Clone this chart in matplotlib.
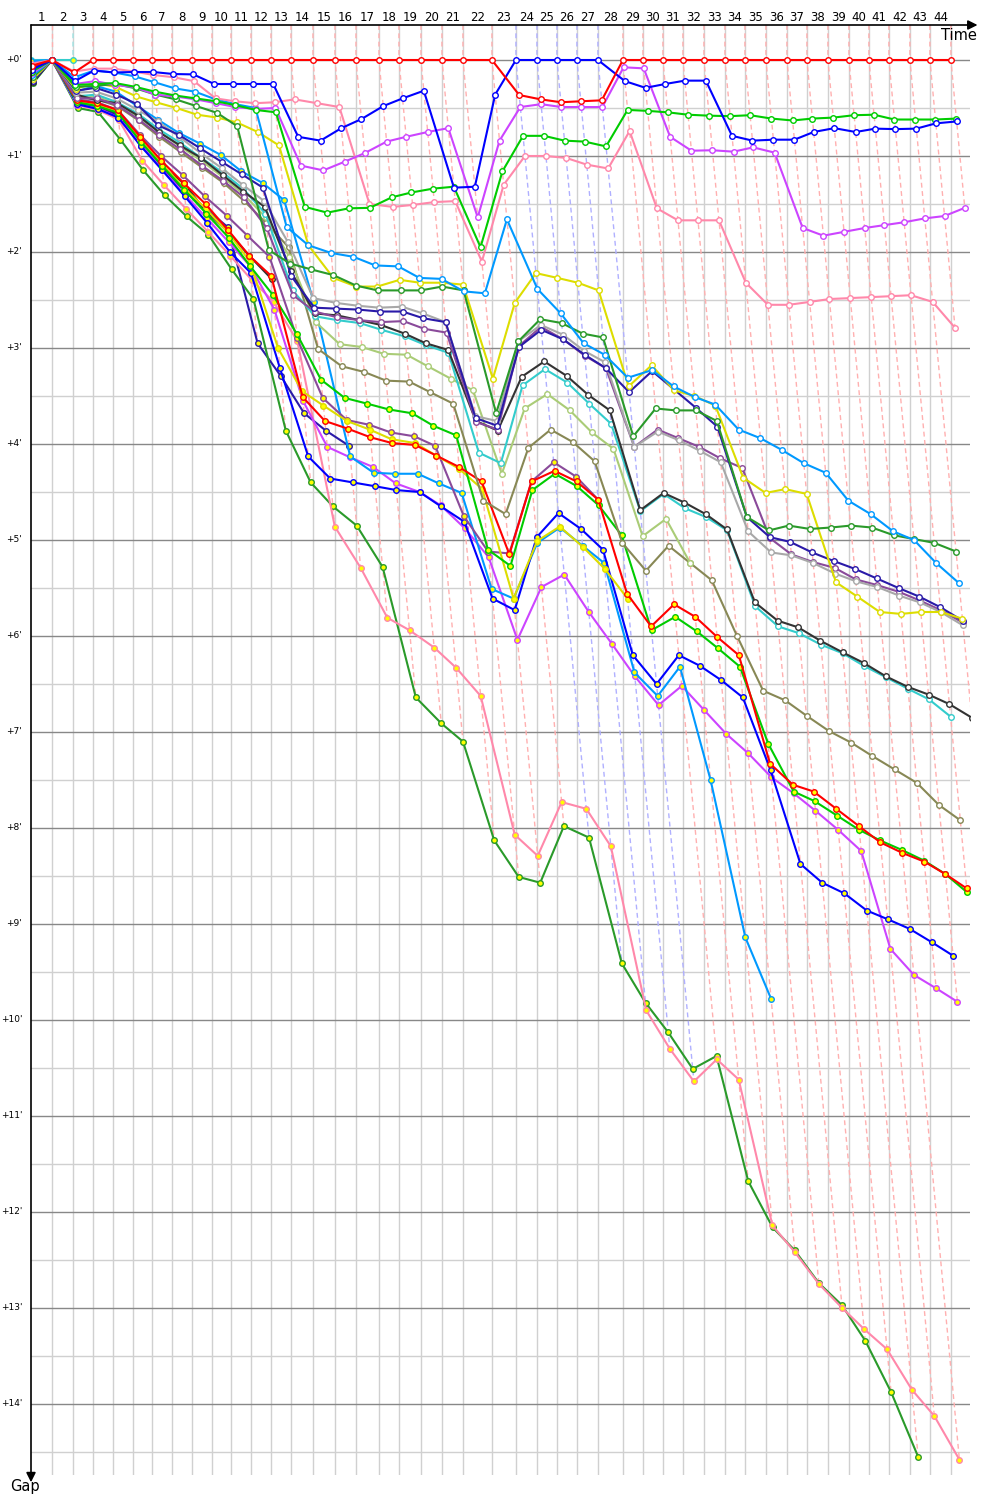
import numpy as np
import matplotlib
matplotlib.use("Agg")
import matplotlib.pyplot as plt
import matplotlib.transforms as mtransforms

# leader lap times in seconds (laps 1..44)
leader_lap_s = [139.7, 139.7, 133.0, 133.0, 133.0, 126.4, 133.0, 133.0, 133.0, 126.4,
                133.0, 133.0, 133.0, 146.3, 146.3, 139.7, 153.0, 133.0, 146.3, 139.7,
                139.7, 192.9, 159.6, 139.7, 133.0, 133.0, 139.7, 166.3, 133.0, 133.0,
                133.0, 139.7, 139.7, 133.0, 139.7, 139.7, 133.0, 139.7, 139.7, 133.0,
                133.0, 139.7, 133.0, 139.7]

# who led each lap (first lap of each stint)
leader_changes = [(1, "red"), (2, "teal"), (3, "red"), (23, "blue"), (28, "red")]

# gap to leader in minutes, laps 0..n (missing laps = retired)
red_1 = [0.06, 0, 0.13, 0, 0, 0, 0, 0, 0, 0,
         0, 0, 0, 0, 0, 0, 0, 0, 0, 0,
         0, 0, 0, 0.365, 0.41, 0.44, 0.43, 0.42, 0, 0,
         0, 0, 0, 0, 0, 0, 0, 0, 0, 0,
         0, 0, 0, 0, 0]
blue_1 = [0.10, 0, 0.22, 0.11, 0.13, 0.125, 0.125, 0.146, 0.15, 0.25,
          0.25, 0.25, 0.25, 0.80, 0.84, 0.71, 0.615, 0.48, 0.40, 0.32,
          1.33, 1.32, 0.36, 0, 0, 0, 0, 0, 0.22, 0.29,
          0.25, 0.215, 0.215, 0.79, 0.84, 0.83, 0.83, 0.75, 0.71, 0.75,
          0.715, 0.72, 0.715, 0.66, 0.64]
green_1 = [0.12, 0, 0.26, 0.25, 0.24, 0.28, 0.33, 0.37, 0.40, 0.43,
           0.47, 0.52, 0.545, 1.53, 1.59, 1.545, 1.54, 1.43, 1.38, 1.34,
           1.32, 1.95, 1.16, 0.79, 0.79, 0.84, 0.85, 0.90, 0.52, 0.53,
           0.545, 0.57, 0.58, 0.585, 0.575, 0.61, 0.63, 0.61, 0.60, 0.575,
           0.57, 0.62, 0.62, 0.62, 0.61]
pink_1 = [0.04, 0, 0.12, 0.09, 0.09, 0.12, 0.156, 0.18, 0.22, 0.40,
          0.43, 0.45, 0.44, 0.41, 0.45, 0.49, 1.50, 1.53, 1.51, 1.48,
          1.47, 2.10, 1.30, 1.00, 1.00, 1.02, 1.09, 1.13, 0.74, 1.545,
          1.67, 1.67, 1.67, 2.32, 2.55, 2.55, 2.52, 2.49, 2.48, 2.47,
          2.46, 2.45, 2.52, 2.79]
purple_1 = [0.14, 0, 0.25, 0.22, 0.26, 0.285, 0.36, 0.38, 0.41, 0.45,
            0.49, 0.51, 0.50, 1.10, 1.15, 1.06, 0.97, 0.85, 0.80, 0.75,
            0.71, 1.64, 0.84, 0.49, 0.46, 0.49, 0.49, 0.49, 0.076, 0.087,
            0.80, 0.945, 0.94, 0.955, 0.91, 0.965, 1.75, 1.83, 1.79, 1.75,
            1.72, 1.69, 1.65, 1.625, 1.54]
lightblue_1 = [0.16, 0, 0.18, 0.11, 0.13, 0.17, 0.23, 0.295, 0.33, 0.41,
               0.46, 0.50, 1.74, 1.93, 2.01, 2.05, 2.14, 2.15, 2.27, 2.28,
               2.41, 2.43, 1.66, 2.385, 2.64, 2.95, 3.07, 3.31, 3.23, 3.40,
               3.51, 3.59, 3.85, 3.94, 4.06, 4.20, 4.30, 4.59, 4.73, 4.91,
               5.00, 5.24, 5.45]
darkgreen_1 = [0.18, 0, 0.28, 0.27, 0.25, 0.295, 0.36, 0.41, 0.48, 0.55,
               0.69, 1.98, 2.12, 2.18, 2.24, 2.35, 2.40, 2.40, 2.40, 2.36,
               2.40, 3.68, 2.93, 2.70, 2.74, 2.85, 2.89, 3.92, 3.63, 3.65,
               3.65, 3.76, 4.76, 4.90, 4.85, 4.885, 4.87, 4.85, 4.87, 4.95,
               4.99, 5.03, 5.12]
yellow_1 = [0.20, 0, 0.30, 0.24, 0.28, 0.38, 0.44, 0.50, 0.57, 0.60,
            0.65, 0.75, 0.89, 1.93, 2.27, 2.36, 2.36, 2.29, 2.32, 2.32,
            2.34, 3.32, 2.53, 2.22, 2.27, 2.32, 2.40, 3.40, 3.18, 3.44,
            3.50, 3.60, 4.35, 4.51, 4.47, 4.52, 5.44, 5.59, 5.75, 5.77,
            5.75, 5.75, 5.82]
navy_1 = [0.22, 0, 0.32, 0.29, 0.36, 0.46, 0.68, 0.78, 0.92, 1.06,
          1.19, 1.33, 2.25, 2.58, 2.59, 2.60, 2.62, 2.62, 2.69, 2.73,
          3.73, 3.81, 2.99, 2.81, 2.91, 3.07, 3.21, 3.46, 3.24, 3.43,
          3.62, 3.82, 4.76, 4.97, 5.02, 5.13, 5.22, 5.30, 5.40, 5.50,
          5.59, 5.70, 5.84]
gray_1 = [0.20, 0, 0.34, 0.33, 0.40, 0.52, 0.64, 0.80, 0.97, 1.13,
          1.30, 1.47, 1.90, 2.48, 2.53, 2.56, 2.58, 2.57, 2.64, 2.73,
          3.71, 3.76, 2.93, 2.76, 2.86, 3.03, 3.15, 4.03, 3.87, 3.96,
          4.07, 4.19, 4.91, 5.13, 5.16, 5.24, 5.35, 5.43, 5.49, 5.58,
          5.65, 5.75, 5.89]
dpurple_1 = [0.21, 0, 0.40, 0.40, 0.47, 0.62, 0.78, 0.93, 1.10, 1.26,
             1.43, 1.75, 2.45, 2.62, 2.68, 2.71, 2.73, 2.72, 2.80, 2.84,
             3.77, 3.85, 2.98, 2.78, 2.91, 3.08, 3.21, 4.03, 3.85, 3.94,
             4.03, 4.15, 4.25, 4.98, 5.15, 5.23, 5.29, 5.41, 5.47, 5.54,
             5.63, 5.73, 5.86]
black_1 = [0.23, 0, 0.36, 0.42, 0.45, 0.58, 0.75, 0.89, 1.02, 1.20,
           1.37, 1.53, 2.20, 2.64, 2.66, 2.71, 2.76, 2.85, 2.95, 3.02,
           3.76, 3.86, 3.30, 3.14, 3.29, 3.49, 3.65, 4.69, 4.51, 4.61,
           4.73, 4.89, 5.65, 5.84, 5.91, 6.05, 6.17, 6.28, 6.42, 6.53,
           6.61, 6.71, 6.85]
teal_1 = [0.19, 0, 0.38, 0.36, 0.44, 0.56, 0.72, 0.86, 1.02, 1.17,
          1.34, 1.60, 2.40, 2.67, 2.71, 2.74, 2.81, 2.88, 2.97, 3.05,
          4.09, 4.20, 3.39, 3.22, 3.36, 3.58, 3.79, 4.70, 4.52, 4.67,
          4.76, 4.90, 5.69, 5.90, 5.97, 6.09, 6.18, 6.31, 6.43, 6.55,
          6.66, 6.84]
lolive_1 = [0.17, 0, 0.37, 0.38, 0.46, 0.60, 0.74, 0.90, 1.05, 1.22,
            1.40, 1.64, 2.05, 2.73, 2.96, 2.99, 3.06, 3.07, 3.19, 3.32,
            3.44, 4.31, 3.63, 3.48, 3.65, 3.88, 4.05, 4.96, 4.78, 5.24]
olive_1 = [0.15, 0, 0.39, 0.41, 0.48, 0.63, 0.80, 0.96, 1.12, 1.28,
           1.47, 1.70, 1.95, 3.01, 3.19, 3.25, 3.34, 3.35, 3.46, 3.58,
           4.59, 4.73, 4.04, 3.85, 3.98, 4.18, 5.03, 5.32, 5.06, 5.24,
           5.42, 6.00, 6.57, 6.67, 6.83, 6.99, 7.11, 7.25, 7.39, 7.53,
           7.76, 7.92]

red_2 = [0.07, 0, 0.42, 0.45, 0.52, 0.80, 1.05, 1.28, 1.50, 1.77,
         2.04, 2.25, 3.51, 3.76, 3.84, 3.93, 3.99, 4.01, 4.12, 4.24,
         4.39, 5.15, 4.39, 4.28, 4.39, 4.58, 5.56, 5.90, 5.67, 5.80,
         6.01, 6.20, 7.33, 7.55, 7.62, 7.80, 7.98, 8.15, 8.26, 8.35,
         8.48, 8.63]
green_2 = [0.09, 0, 0.44, 0.48, 0.55, 0.85, 1.10, 1.35, 1.60, 1.85,
           2.15, 2.45, 2.85, 3.33, 3.52, 3.58, 3.64, 3.68, 3.81, 3.91,
           5.10, 5.27, 4.48, 4.31, 4.44, 4.64, 4.95, 5.94, 5.80, 5.95,
           6.13, 6.32, 7.12, 7.62, 7.72, 7.87, 8.02, 8.13, 8.23, 8.34,
           8.48, 8.67]
yellow_2 = [0.11, 0, 0.43, 0.46, 0.54, 0.82, 1.08, 1.33, 1.55, 1.80,
            2.10, 3.00, 3.45, 3.60, 3.76, 3.85, 3.95, 3.99, 4.12, 4.26,
            4.47, 5.61, 5.01, 4.86, 5.07, 5.30, 5.61]
dpurple_2 = [0.13, 0, 0.41, 0.44, 0.52, 0.78, 1.00, 1.20, 1.42, 1.62,
             1.83, 2.05, 2.90, 3.52, 3.75, 3.80, 3.88, 3.92, 4.02, 4.75,
             5.12, 5.14, 4.39, 4.19, 4.34, 4.58]
pink_2 = [0.10, 0, 0.47, 0.52, 0.62, 1.05, 1.30, 1.55, 1.79, 2.04,
          2.29, 2.52, 2.93, 4.86, 5.29, 5.81, 5.94, 6.12, 6.33, 6.625,
          8.07, 8.29, 7.73, 7.80, 8.19, 9.90, 10.30, 10.64, 10.41, 10.62,
          12.14, 12.42, 12.75, 13.00, 13.22, 13.43, 13.85, 14.125, 14.58]
purple_2 = [0.03, 0, 0.47, 0.50, 0.60, 0.87, 1.14, 1.40, 1.65, 1.90,
            2.15, 2.60, 3.55, 4.03, 4.14, 4.24, 4.41, 4.50, 4.64, 4.88,
            5.18, 6.04, 5.49, 5.36, 5.75, 6.08, 6.42, 6.72, 6.52, 6.77,
            7.02, 7.22, 7.47, 7.64, 7.82, 8.02, 8.24, 9.26, 9.53, 9.67,
            9.81]
lightblue_2 = [0.01, 0, 0.33, 0.27, 0.33, 0.48, 0.62, 0.76, 0.87, 0.99,
               1.16, 1.28, 1.46, 2.52, 4.13, 4.30, 4.31, 4.31, 4.41, 4.51,
               5.51, 5.61, 5.03, 4.87, 5.06, 5.24, 6.38, 6.625, 6.32, 7.50,
               9.14, 9.78]
navy_2 = [0.05, 0, 0.45, 0.50, 0.58, 0.86, 1.12, 1.36, 1.55, 1.74,
          2.95, 3.29, 3.68, 3.86, 4.02]
blue_2 = [0.08, 0, 0.46, 0.51, 0.60, 0.90, 1.15, 1.42, 1.70, 2.00,
          2.22, 3.21, 4.13, 4.36, 4.40, 4.44, 4.48, 4.50, 4.65, 4.81,
          5.61, 5.73, 4.97, 4.72, 4.885, 5.10, 6.20, 6.50, 6.20, 6.31,
          6.46, 6.64, 7.40, 8.375, 8.57, 8.68, 8.86, 8.95, 9.05, 9.19,
          9.33]
darkgreen_2 = [0.24, 0, 0.50, 0.54, 0.83, 1.15, 1.41, 1.63, 1.82, 2.18,
               2.49, 3.86, 4.40, 4.65, 4.85, 5.28, 6.64, 6.91, 7.10, 8.13,
               8.51, 8.57, 7.98, 8.10, 9.41, 9.82, 10.13, 10.51, 10.375, 11.68,
               12.16, 12.40, 12.74, 12.97, 13.34, 13.875, 14.55]
black_2 = [0.14, 0, 0.44, 0.49, 0.56, 0.90, 1.11, 1.28, 1.58, 1.79,
           2.04, 2.28]
teal_2 = [0.0, 0, 0.0]

team_colors = {
    "red": "#ff0000", "blue": "#0000ff", "green": "#00cc00", "pink": "#ff88aa",
    "purple": "#cc44ff", "lightblue": "#0099ff", "darkgreen": "#2a9a2a",
    "yellow": "#dddd00", "navy": "#2a1aa8", "gray": "#a8a8a8",
    "dpurple": "#8a4a9a", "black": "#333333", "teal": "#33cccc",
    "lolive": "#aacc77", "olive": "#888855",
}
lap_line_colors = {"red": "#ffb0b0", "blue": "#b0b0ff", "teal": "#9fe3e3"}

# second drivers (yellow markers) drawn first, first drivers on top
drivers = [
    ("teal", teal_2, "#ffff00"), ("black", black_2, "#ffff00"),
    ("navy", navy_2, "#ffff00"), ("darkgreen", darkgreen_2, "#ffff00"),
    ("pink", pink_2, "#ffff00"), ("purple", purple_2, "#ffff00"),
    ("lightblue", lightblue_2, "#ffff00"), ("blue", blue_2, "#ffff00"),
    ("dpurple", dpurple_2, "#ffff00"), ("yellow", yellow_2, "#ffff00"),
    ("green", green_2, "#ffff00"), ("red", red_2, "#ffff00"),
    ("olive", olive_1, "white"), ("lolive", lolive_1, "white"),
    ("teal", teal_1, "white"), ("black", black_1, "white"),
    ("dpurple", dpurple_1, "white"), ("gray", gray_1, "white"),
    ("navy", navy_1, "white"), ("yellow", yellow_1, "white"),
    ("darkgreen", darkgreen_1, "white"), ("lightblue", lightblue_1, "white"),
    ("pink", pink_1, "white"), ("purple", purple_1, "white"),
    ("green", green_1, "white"), ("blue", blue_1, "white"),
    ("red", red_1, "white"),
]

n_laps = len(leader_lap_s)
t_lap = np.concatenate([[0.0], np.cumsum(leader_lap_s) / 60.0])  # minutes

gaps = []
for team, vals, face in drivers:
    g = np.full(n_laps + 1, np.nan)
    g[:len(vals)] = vals
    gaps.append(g)
gaps = np.array(gaps)

# figure geometry: 9.02 px per minute along time, 96 px per minute of gap
px_time, px_gap = 9.02, 96.0
fig = plt.figure(figsize=(10, 15), dpi=100)
ax = fig.add_axes([31 / 1000, 25 / 1500, 939 / 1000, 1450 / 1500])
x_max = 939 / px_time
y_top = -35 / px_gap
y_bot = y_top + 1450 / px_gap
ax.set_xlim(0, x_max)
ax.set_ylim(y_bot, y_top)
for s in ax.spines.values():
    s.set_visible(False)
ax.set_xticks([])
ax.set_yticks([])

# grid
for k in range(0, 15):
    ax.axhline(k, color="#888888", lw=1.0, zorder=0.5)
    ax.axhline(k + 0.5, color="#d0d0d0", lw=1.0, zorder=0.4)
for n in range(1, n_laps + 1):
    ax.axvline(t_lap[n], color="#d0d0d0", lw=1.0, zorder=0.4)

# lap lines (same lap for every car, coloured by leader)
leader_of = {}
for i, (start, team) in enumerate(leader_changes):
    end = leader_changes[i + 1][0] if i + 1 < len(leader_changes) else n_laps + 1
    for n in range(start, end):
        leader_of[n] = team
for n in range(1, n_laps + 1):
    g_max = np.nanmax(gaps[:, n])
    ax.plot([t_lap[n], t_lap[n], t_lap[n] + g_max], [y_top, 0, g_max],
            color=lap_line_colors[leader_of[n]], lw=1.0, ls=(0, (3.5, 2.5)),
            zorder=1)

# drivers
for (team, vals, face), g in zip(drivers, gaps):
    x = t_lap + g
    ax.plot(x, g, color=team_colors[team], lw=1.5, marker="o", ms=4.0,
            mfc=face, mec=team_colors[team], mew=1.0, zorder=3)

# lap numbers along the top
blend = mtransforms.blended_transform_factory(ax.transData, ax.transAxes)
for n in range(1, n_laps + 1):
    ax.text((t_lap[n - 1] + t_lap[n]) / 2, 1.0055, str(n), transform=blend,
            ha="center", va="center", fontsize=8.5, clip_on=False)

# gap labels
blend_y = mtransforms.blended_transform_factory(ax.transAxes, ax.transData)
for k in range(0, 15):
    ax.text(-0.0095, k, "+%d'" % k, transform=blend_y, ha="right",
            va="center", fontsize=6.5, clip_on=False)

# axes with arrows
ax.annotate("", xy=(1.008, 1.0), xytext=(0, 1.0), xycoords="axes fraction",
            arrowprops=dict(arrowstyle="-|>", color="black", lw=1.2,
                            mutation_scale=14, shrinkA=0, shrinkB=0))
ax.annotate("", xy=(0, -0.005), xytext=(0, 1.0), xycoords="axes fraction",
            arrowprops=dict(arrowstyle="-|>", color="black", lw=1.2,
                            mutation_scale=14, shrinkA=0, shrinkB=0))
ax.text(1.0075, 0.9931, "Time", transform=ax.transAxes, ha="right",
        va="center", fontsize=10.5)
ax.text(-0.0064, -0.0076, "Gap", transform=ax.transAxes, ha="center",
        va="center", fontsize=10.5)

fig.savefig("out.png", dpi=100)
